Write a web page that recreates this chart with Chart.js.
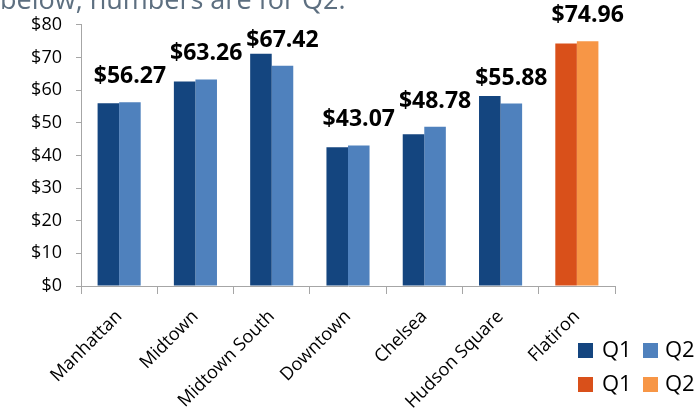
<!DOCTYPE html>
<html>
<head>
<meta charset="utf-8">
<script src="https://cdn.jsdelivr.net/npm/chart.js@4"></script>
<style>
  html, body { margin: 0; padding: 0; background: #fff; }
  #wrap { position: relative; width: 694px; height: 408px; }
</style>
</head>
<body>
<div id="wrap"><canvas id="rents"></canvas></div>
<script>
  var categories = ['Manhattan', 'Midtown', 'Midtown South', 'Downtown', 'Chelsea', 'Hudson Square', 'Flatiron'];
  var q1Values = [56.0, 62.6, 71.1, 42.5, 46.5, 58.2, 74.3];
  var q2Values = [56.27, 63.26, 67.42, 43.07, 48.78, 55.88, 74.96];
  var yTicks = [0, 10, 20, 30, 40, 50, 60, 70, 80];
  var headline = 'below, numbers are for Q2.';

  var blueQ1 = '#14457f', blueQ2 = '#4f81bd';
  var orangeQ1 = '#d9501a', orangeQ2 = '#f79646';

  // Flatiron gets the orange pair
  function colorsFor(base, accent) {
    return categories.map(function (c) { return c === 'Flatiron' ? accent : base; });
  }

  var valueLabels = {
    id: 'valueLabels',
    afterDatasetsDraw: function (chart) {
      var ctx = chart.ctx;
      var meta = chart.getDatasetMeta(1);
      ctx.save();
      ctx.font = 'bold 23px "Open Sans"';
      ctx.fillStyle = '#000';
      ctx.textAlign = 'center';
      ctx.textBaseline = 'alphabetic';
      meta.data.forEach(function (bar, i) {
        ctx.fillText('$' + q2Values[i].toFixed(2), bar.x, bar.y - 19);
      });
      ctx.restore();
    }
  };

  var extras = {
    id: 'extras',
    afterDraw: function (chart) {
      var ctx = chart.ctx;
      ctx.save();
      // cut-off headline at the very top
      ctx.font = '27px "Open Sans"';
      ctx.fillStyle = '#5d6f80';
      ctx.textAlign = 'left';
      ctx.textBaseline = 'alphabetic';
      ctx.fillText(headline, 0, 9, 357);

      // legend, bottom right
      var rows = [[blueQ1, blueQ2], [orangeQ1, orangeQ2]];
      ctx.font = '22px "Open Sans"';
      ctx.textBaseline = 'middle';
      rows.forEach(function (pair, r) {
        var y = 343 + r * 34;
        ctx.fillStyle = pair[0];
        ctx.fillRect(578, y, 15, 15);
        ctx.fillStyle = '#000';
        ctx.fillText('Q1', 602, y + 8);
        ctx.fillStyle = pair[1];
        ctx.fillRect(643, y, 15, 15);
        ctx.fillStyle = '#000';
        ctx.fillText('Q2', 665, y + 8);
      });
      ctx.restore();
    }
  };

  var ctx = document.getElementById('rents');
  new Chart(ctx, {
    type: 'bar',
    data: {
      labels: categories,
      datasets: [
        {
          label: 'Q1',
          data: q1Values,
          backgroundColor: colorsFor(blueQ1, orangeQ1),
        },
        {
          label: 'Q2',
          data: q2Values,
          backgroundColor: colorsFor(blueQ2, orangeQ2),
        },
      ]
    },
    options: {
      responsive: true,
      maintainAspectRatio: false,
      animation: false,
      categoryPercentage: 0.565,
      barPercentage: 1.0,
      layout: { padding: { top: 22, right: 79, left: 0, bottom: 0 } },
      plugins: {
        legend: { display: false },
        tooltip: { enabled: false },
      },
      scales: {
        x: {
          grid: { display: true, drawOnChartArea: false, offset: true, tickLength: 8, color: '#a6a6a6' },
          border: { color: '#a6a6a6' },
          ticks: {
            maxRotation: 45,
            minRotation: 45,
            autoSkip: false,
            color: '#000',
            padding: 12,
            font: { family: 'Open Sans', size: 18 }
          },
          afterFit: function (s) { s.height = 122; }
        },
        y: {
          min: 0,
          max: 80,
          grid: { display: true, drawOnChartArea: false, tickLength: 5, color: '#a6a6a6' },
          border: { color: '#a6a6a6' },
          afterBuildTicks: function (s) { s.ticks = yTicks.map(function (v) { return { value: v }; }); },
          ticks: {
            color: '#000',
            padding: 14,
            font: { family: 'Open Sans', size: 18 },
            callback: function (v) { return '$' + v; }
          },
          afterFit: function (s) { s.width = 81; }
        }
      }
    },
    plugins: [valueLabels, extras]
  });
</script>
</body>
</html>
